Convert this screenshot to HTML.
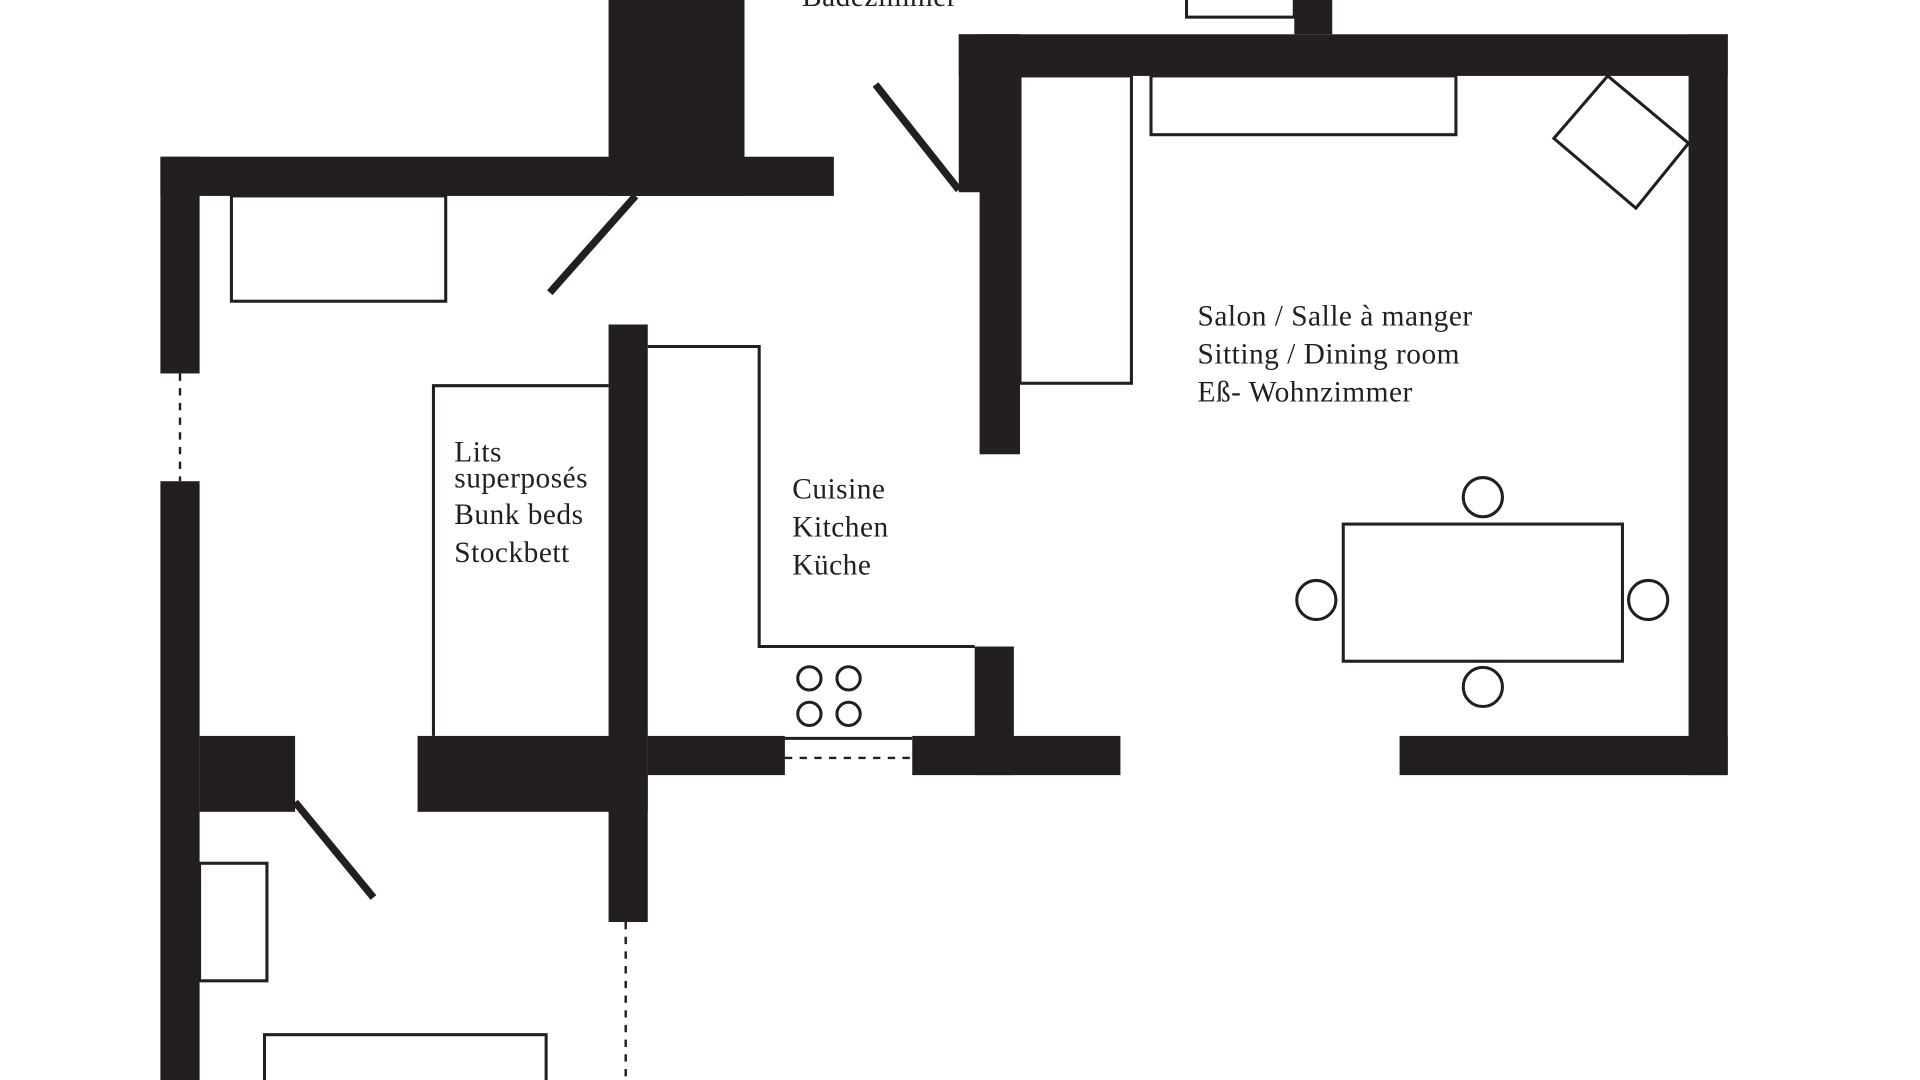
<!DOCTYPE html>
<html><head><meta charset="utf-8"><style>
html,body{margin:0;padding:0;background:#fff;width:1920px;height:1080px;overflow:hidden}
svg{display:block}
text{font-family:"Liberation Serif",serif;font-size:24px;letter-spacing:0.4px;fill:#231f20}
</style></head><body>
<svg width="1920" height="1080" viewBox="0 0 1568 882" preserveAspectRatio="none">
<g fill="#231f20">
<rect x="131" y="128" width="550" height="32"/>
<rect x="497" y="0" width="111" height="160"/>
<rect x="131" y="128" width="32" height="177"/>
<rect x="131" y="393" width="32" height="489"/>
<rect x="163" y="601" width="78" height="62"/>
<rect x="497" y="265" width="32" height="488"/>
<rect x="341" y="601" width="188" height="62"/>
<rect x="529" y="601" width="112" height="32"/>
<rect x="745" y="601" width="170" height="32"/>
<rect x="796" y="528" width="32" height="105"/>
<rect x="783" y="28" width="628" height="34"/>
<rect x="783" y="28" width="50" height="129"/>
<rect x="800" y="28" width="33" height="343"/>
<rect x="1379" y="28" width="32" height="605"/>
<rect x="1143" y="601" width="268" height="32"/>
<rect x="1057" y="0" width="31" height="28"/>
</g>
<g fill="none" stroke="#231f20" stroke-width="2.5">
<rect x="969" y="-2" width="88" height="16"/>
<rect x="189" y="160" width="175" height="86"/>
<path d="M497 315 H354 V601"/>
<path d="M529 283 H620 V528 H796"/>
<line x1="641" y1="603" x2="745" y2="603"/>
<circle cx="661" cy="554" r="9.5"/><circle cx="693" cy="554" r="9.5"/>
<circle cx="661" cy="583" r="9.5"/><circle cx="693" cy="583" r="9.5"/>
<rect x="833" y="62" width="91" height="251"/>
<rect x="940" y="62" width="249" height="48"/>
<polygon points="1313,62 1379,117 1336,170 1269,113"/>
<rect x="1097" y="428" width="228" height="112"/>
<circle cx="1211" cy="406" r="16"/><circle cx="1211" cy="561" r="16"/>
<circle cx="1075" cy="490" r="16"/><circle cx="1346" cy="490" r="16"/>
<rect x="163" y="705" width="55" height="96"/>
<rect x="216" y="845" width="230" height="50"/>
</g>
<g stroke="#231f20" stroke-width="2" stroke-dasharray="6,6">
<line x1="147" y1="305" x2="147" y2="393"/>
<line x1="641" y1="619" x2="745" y2="619"/>
<line x1="511" y1="753" x2="511" y2="882"/>
</g>
<g stroke="#231f20" stroke-width="6">
<line x1="449" y1="239" x2="519" y2="160"/>
<line x1="715" y1="69" x2="783" y2="155"/>
<line x1="241" y1="655" x2="305" y2="733"/>
</g>
<text x="655" y="5">Badezimmer</text>
<text x="978" y="266">Salon / Salle à manger</text>
<text x="978" y="297">Sitting / Dining room</text>
<text x="978" y="328">Eß- Wohnzimmer</text>
<text x="647" y="407">Cuisine</text>
<text x="647" y="438">Kitchen</text>
<text x="647" y="469">Küche</text>
<text x="371" y="377">Lits</text>
<text x="371" y="398">superposés</text>
<text x="371" y="428">Bunk beds</text>
<text x="371" y="459">Stockbett</text>
</svg>
</body></html>
